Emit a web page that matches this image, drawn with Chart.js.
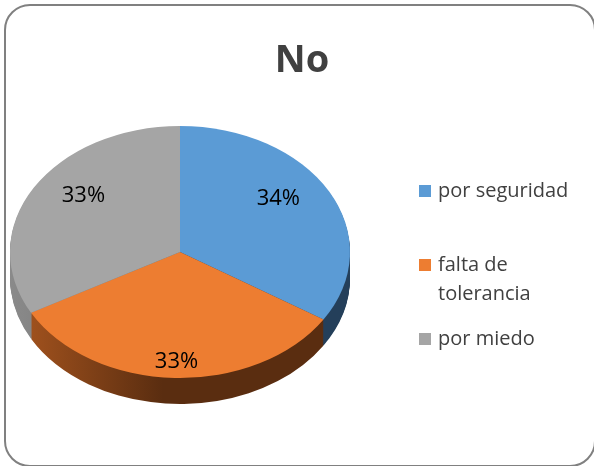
<!DOCTYPE html>
<html><head><meta charset="utf-8">
<script src="https://cdn.jsdelivr.net/npm/chart.js@4"></script>
<style>
html,body{margin:0;padding:0;background:#fff;overflow:hidden;}
#wrap{position:relative;width:594px;height:466px;overflow:hidden;}
#frame{position:absolute;left:4px;top:4px;width:592px;height:463px;border:2px solid #808080;border-radius:26px;box-sizing:border-box;pointer-events:none;}
canvas{position:absolute;left:0;top:0;}
</style></head><body>
<div id="wrap"><canvas id="c" width="594" height="466"></canvas><div id="frame"></div></div>
<script>
// ---- data ----
const titleText = 'No';
const categories = ['por seguridad', 'falta de tolerancia', 'por miedo'];
const values = [34, 33, 33];

// ---- styles ----
const topColors = ['#5B9BD5', '#ED7D31', '#A5A5A5'];
const sideColors = [['#3a6690', '#243f5a'], ['#a9561f', '#5a2d10'], ['#8a8a8a', '#6b6b6b']];
const TILT = 126 / 170;
const DEPTH = 26;
const LABEL_FX = 0.66, LABEL_FY = 0.87;
const legendLayout = { boxX: 419, textX: 438, box: 12, maxWidth: 140, lineH: 29, itemY: [197, 271, 345] };
const titleLayout = { x: 302, y: 72 };
const textColor = '#404040';

function sideGradient(ctx, i, cx, r) {
  const g = ctx.createLinearGradient(cx - r, 0, cx + r, 0);
  g.addColorStop(0, sideColors[i][0]);
  g.addColorStop(0.45, sideColors[i][1]);
  g.addColorStop(1, sideColors[i][1]);
  return g;
}

const tiltPlugin = {
  id: 'tilt',
  beforeDatasetsDraw(chart) {
    const ctx = chart.ctx;
    const meta = chart.getDatasetMeta(0);
    const a0 = meta.data[0];
    const cx = a0.x, cy = a0.y, r = a0.outerRadius;
    for (let d = DEPTH; d >= 1; d--) {
      ctx.save();
      ctx.translate(0, d);
      ctx.translate(cx, cy); ctx.scale(1, TILT); ctx.translate(-cx, -cy);
      meta.data.forEach((arc, i) => {
        ctx.beginPath();
        ctx.moveTo(arc.x, arc.y);
        ctx.arc(arc.x, arc.y, arc.outerRadius, arc.startAngle, arc.endAngle);
        ctx.closePath();
        ctx.fillStyle = sideGradient(ctx, i, cx, r);
        ctx.fill();
      });
      ctx.restore();
    }
    ctx.save();
    ctx.translate(cx, cy); ctx.scale(1, TILT); ctx.translate(-cx, -cy);
  },
  afterDatasetsDraw(chart) {
    const ctx = chart.ctx;
    ctx.restore();
    const meta = chart.getDatasetMeta(0);
    const total = values.reduce((a, b) => a + b, 0);
    ctx.save();
    ctx.font = '22px "Open Sans"';
    ctx.fillStyle = '#000';
    ctx.textAlign = 'center';
    ctx.textBaseline = 'middle';
    meta.data.forEach((arc, i) => {
      const mid = (arc.startAngle + arc.endAngle) / 2;
      const x = arc.x + Math.cos(mid) * arc.outerRadius * LABEL_FX;
      const y = arc.y + Math.sin(mid) * arc.outerRadius * TILT * LABEL_FY;
      ctx.fillText(Math.round(values[i] / total * 100) + '%', x, y);
    });
    ctx.restore();
  }
};

function wrap(ctx, text, maxW) {
  const words = text.split(' ');
  const lines = [];
  let cur = '';
  words.forEach(w => {
    const t = cur ? cur + ' ' + w : w;
    if (ctx.measureText(t).width > maxW && cur) { lines.push(cur); cur = w; } else cur = t;
  });
  if (cur) lines.push(cur);
  return lines;
}

const legendTitlePlugin = {
  id: 'sideLegendTitle',
  afterDraw(chart) {
    const ctx = chart.ctx;
    const L = legendLayout;
    ctx.save();
    ctx.font = 'bold 38px "Open Sans"';
    ctx.fillStyle = textColor;
    ctx.textAlign = 'center';
    ctx.textBaseline = 'alphabetic';
    ctx.fillText(titleText, titleLayout.x, titleLayout.y);
    ctx.font = '20px "Open Sans"';
    ctx.textAlign = 'left';
    categories.forEach((c, i) => {
      const y0 = L.itemY[i];
      ctx.fillStyle = topColors[i];
      ctx.fillRect(L.boxX, y0 - L.box, L.box, L.box);
      ctx.fillStyle = textColor;
      wrap(ctx, c, L.maxWidth).forEach((ln, k) => ctx.fillText(ln, L.textX, y0 + k * L.lineH));
    });
    ctx.restore();
  }
};

new Chart(document.getElementById('c'), {
  type: 'pie',
  data: {
    labels: categories,
    datasets: [{ data: values, backgroundColor: topColors, borderWidth: 0 }]
  },
  options: {
    responsive: false,
    animation: false,
    layout: { padding: { left: 10, right: 244, top: 82, bottom: 44 } },
    plugins: {
      legend: { display: false },
      tooltip: { enabled: false },
      title: { display: false }
    }
  },
  plugins: [tiltPlugin, legendTitlePlugin]
});
</script>
</body></html>
